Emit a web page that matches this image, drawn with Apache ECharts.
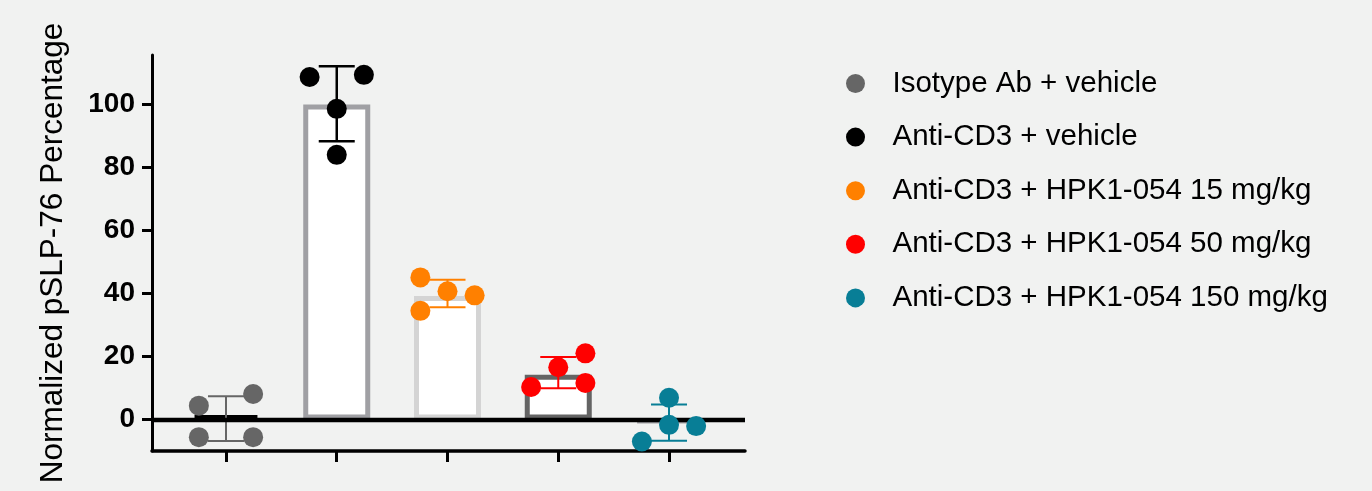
<!DOCTYPE html>
<html>
<head>
<meta charset="utf-8">
<script src="https://cdn.jsdelivr.net/npm/echarts@6/dist/echarts.min.js"></script>
<style>
  html, body { margin: 0; padding: 0; background: #f1f2f1; }
  #chart { width: 1372px; height: 491px; }
</style>
</head>
<body>
<div id="chart"></div>
<script>
// groups, in plot order
const groups = [
  'Isotype Ab + vehicle',
  'Anti-CD3 + vehicle',
  'Anti-CD3 + HPK1-054 15 mg/kg',
  'Anti-CD3 + HPK1-054 50 mg/kg',
  'Anti-CD3 + HPK1-054 150 mg/kg'
];
const barValues = [1.3, 100, 39.2, 14.2, -1];
const errMean = [0.3, 100.2, 40, 14.9, -1];
const errSD = [7.1, 11.9, 4.35, 4.95, 5.75];

// individual animals per group
const isotypeVals = [4.4, 8.1, -5.6, -5.6];
const cd3Vals = [108.7, 109.4, 98.6, 84.0];
const hpk15Vals = [45.1, 40.7, 39.4, 34.5];
const hpk50Vals = [21.0, 16.6, 10.3, 11.6];
const hpk150Vals = [6.9, -1.7, -2.1, -7.0];
const dotValues = [isotypeVals, cd3Vals, hpk15Vals, hpk50Vals, hpk150Vals];

// horizontal spread of the dots inside a column (-1 left, 0 middle, 1 right)
const spread = [[-1, 1, -1, 1], [-1, 1, 0, 0], [-1, 0, 1, -1], [1, 0, -1, 1], [0, 0, 1, -1]];

const yTicks = [0, 20, 40, 60, 80, 100];

const dotColors = ['#666666', '#000000', '#ff8000', '#ff0000', '#087e96'];
const barColors = ['#000000', '#a0a0a4', '#d4d4d4', '#646464', '#a0a0a4'];
const barFills = ['#000000', '#ffffff', '#ffffff', '#ffffff', '#ffffff'];
const FONT = '"Liberation Sans", Arial, sans-serif';

const chart = echarts.init(document.getElementById('chart'));

const scatterSeries = groups.map((name, g) => ({
  name: name,
  type: 'scatter',
  symbol: 'circle',
  symbolSize: 20,
  z: 6,
  itemStyle: { color: dotColors[g], opacity: 1 },
  data: dotValues[g].map((v, i) => [g + 1 + spread[g][i] * 0.245, v])
}));

const option = {
  backgroundColor: '#f1f2f1',
  animation: false,
  grid: { left: 152, top: 55, width: 593, height: 396, containLabel: false },
  legend: {
    data: groups.map(n => ({ name: n, icon: 'circle' })),
    orient: 'vertical',
    left: 841,
    top: 61.5,
    itemWidth: 64,
    itemHeight: 19,
    symbolKeepAspect: true,
    itemGap: 19.6,
    selectedMode: false,
    textStyle: { fontFamily: FONT, fontSize: 29.5, color: '#000', lineHeight: 34 }
  },
  xAxis: {
    type: 'value',
    min: 0.332,
    max: 5.686,
    splitLine: { show: false },
    axisLine: { show: true, onZero: false, lineStyle: { color: '#000', width: 3.5 } },
    axisTick: { show: true, customValues: [1, 2, 3, 4, 5], length: 11, lineStyle: { color: '#000', width: 3 } },
    axisLabel: { show: false }
  },
  yAxis: {
    type: 'value',
    min: -10,
    max: 115.7,
    name: 'Normalized pSLP-76 Percentage',
    nameLocation: 'middle',
    nameRotate: 90,
    nameGap: 83,
    nameTextStyle: { fontFamily: FONT, fontSize: 31.5, color: '#000' },
    splitLine: { show: false },
    axisLine: { show: true, lineStyle: { color: '#000', width: 3 } },
    axisTick: { show: true, customValues: yTicks, length: 10, lineStyle: { color: '#000', width: 3 } },
    axisLabel: {
      customValues: yTicks,
      margin: 17,
      fontFamily: FONT,
      fontWeight: 'bold',
      fontSize: 28,
      color: '#000'
    }
  },
  series: [
    {
      type: 'bar',
      barWidth: 67,
      z: 2,
      data: barValues.map((v, g) => ({
        value: [g + 1, v],
        itemStyle: { color: barFills[g], borderColor: barColors[g], borderWidth: 5 }
      }))
    },
    {
      type: 'line',
      data: [],
      z: 3,
      markLine: {
        silent: true,
        symbol: 'none',
        label: { show: false },
        lineStyle: { color: '#000', width: 4.3, type: 'solid' },
        data: [{ yAxis: 0 }]
      }
    },
    {
      type: 'custom',
      z: 4,
      data: errMean.map((m, g) => [g + 1, m - errSD[g], m + errSD[g], g]),
      renderItem: function (params, api) {
        const x = api.value(0);
        const g = api.value(3);
        const lo = api.coord([x, api.value(1)]);
        const hi = api.coord([x, api.value(2)]);
        const cap = 18;
        const style = { stroke: dotColors[g], lineWidth: g === 1 ? 2.5 : 2, fill: null };
        return {
          type: 'group',
          children: [
            { type: 'line', shape: { x1: hi[0], y1: hi[1], x2: lo[0], y2: lo[1] }, style: style },
            { type: 'line', shape: { x1: hi[0] - cap, y1: hi[1], x2: hi[0] + cap, y2: hi[1] }, style: style },
            { type: 'line', shape: { x1: lo[0] - cap, y1: lo[1], x2: lo[0] + cap, y2: lo[1] }, style: style }
          ]
        };
      }
    }
  ].concat(scatterSeries)
};

chart.setOption(option);
</script>
</body>
</html>
